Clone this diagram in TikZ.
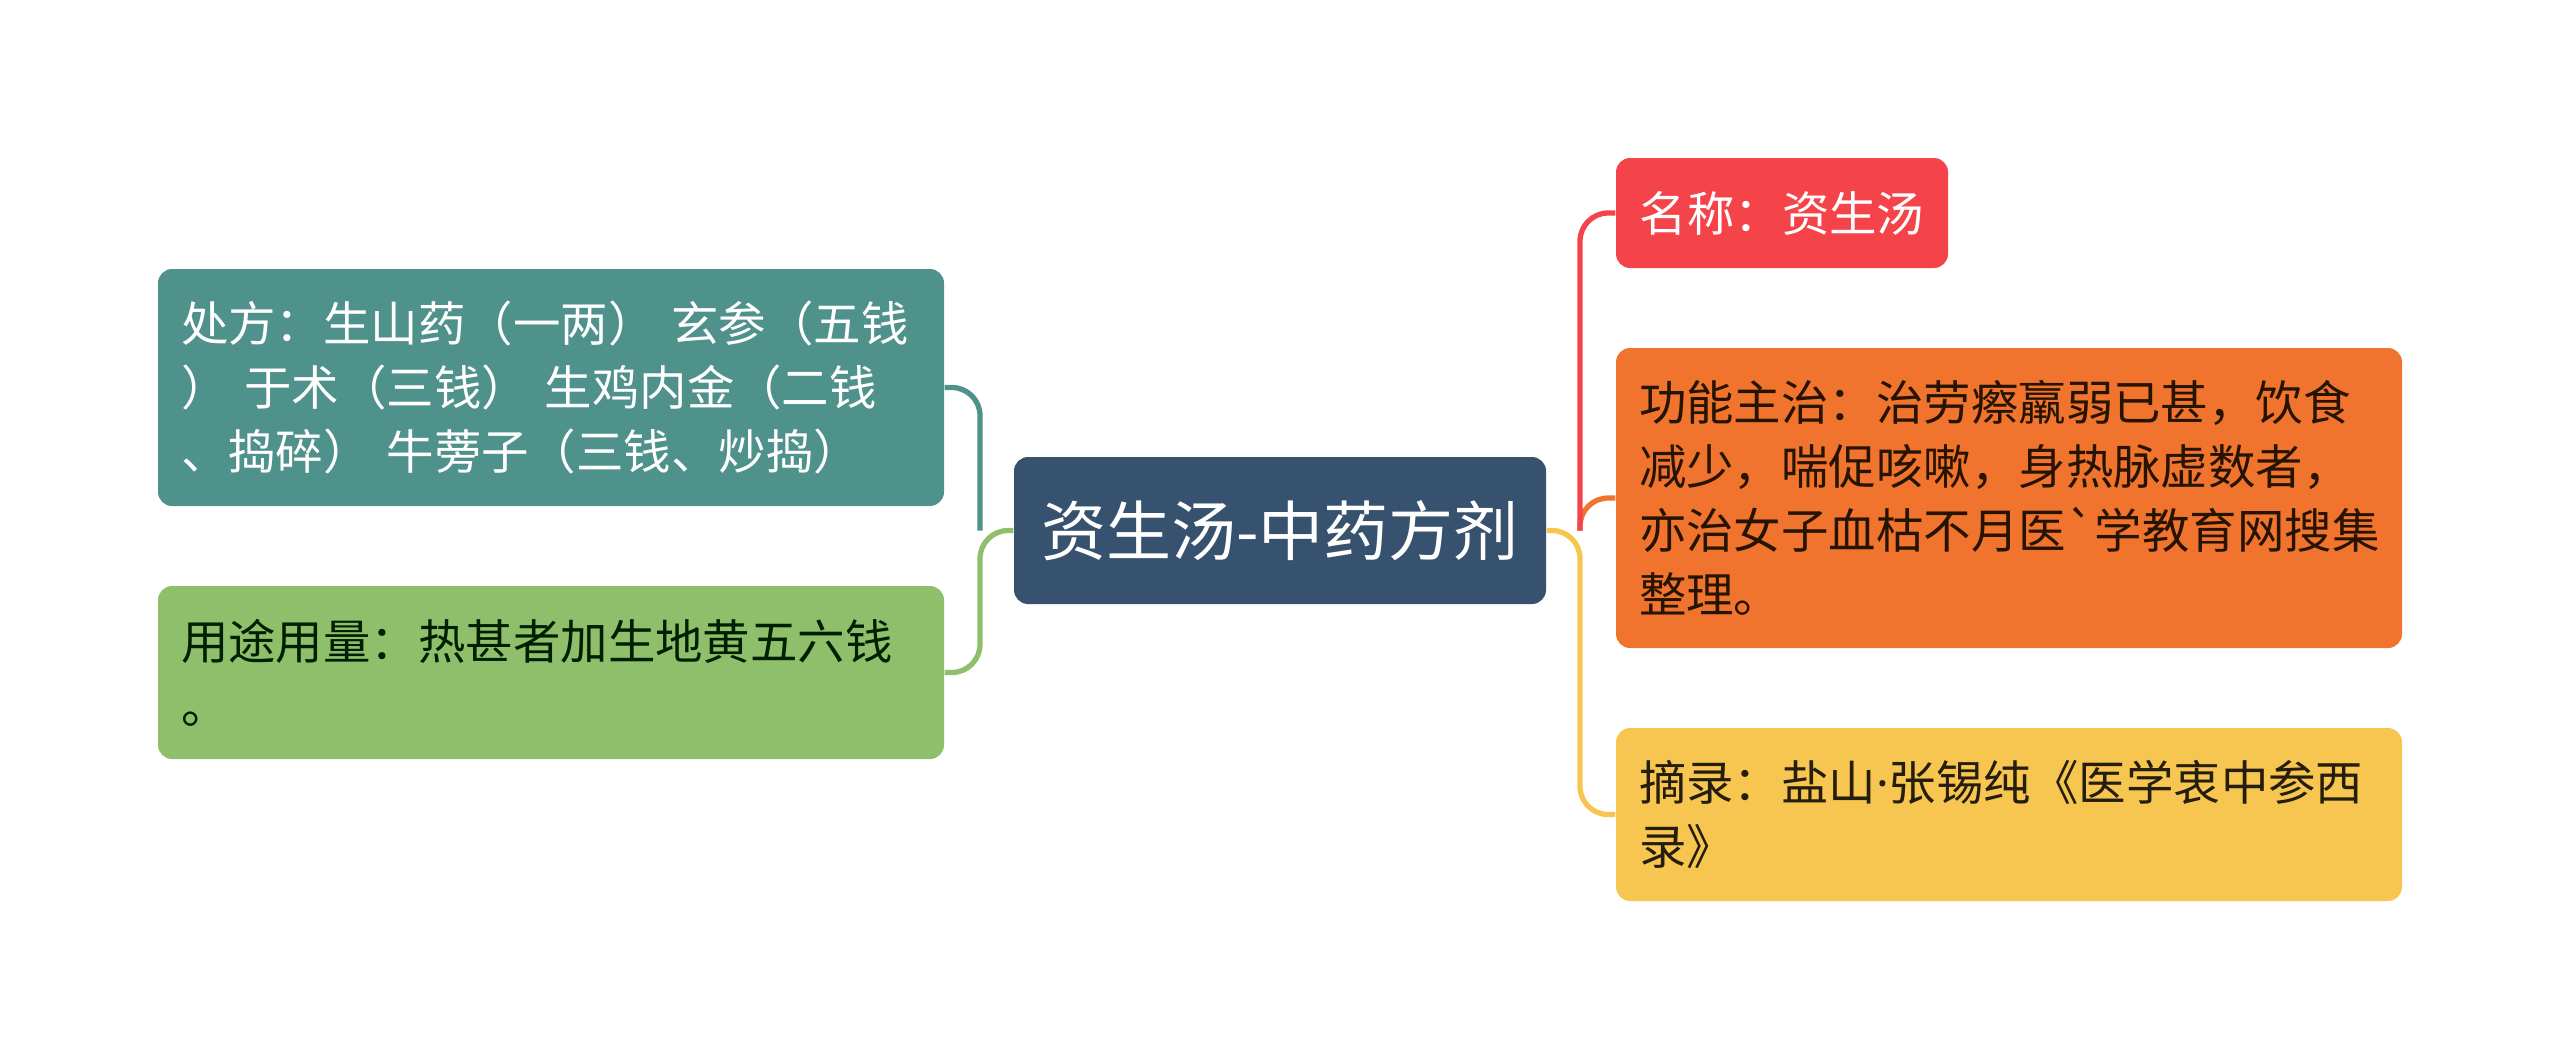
\documentclass[tikz,border=0pt]{standalone}
\usepackage{fontspec}
\setmainfont{Noto Sans CJK SC}[Ligatures=TeXOff]
\newfontfamily\latinfont{Noto Sans}
\usepackage{xcolor}
\usepackage{tikz}
\usetikzlibrary{positioning}
\definecolor{rootblue}{HTML}{36526E}
\definecolor{tealc}{HTML}{4F918B}
\definecolor{greenc}{HTML}{8FBF6A}
\definecolor{redc}{HTML}{F5434A}
\definecolor{orangec}{HTML}{F0742D}
\definecolor{yellowc}{HTML}{F7C651}
\tikzstyle{link}   = [line width=1.5pt, rounded corners=8pt]
\tikzstyle{topic}  = [rectangle, rounded corners=4pt, inner xsep=0.23cm, text width=7.4cm, align=left,
                      font=\fontsize{13.5}{18.2}\selectfont]
\tikzset{every node/.style={align=center}}

\begin{document}
\begin{tikzpicture}
    \useasboundingbox (0, 0) rectangle (25.6, 10.61);

    \node (root)  at (12.80, 5.305) [rectangle, rounded corners=4pt, fill=rootblue, text=white,
          minimum width=5.32cm, minimum height=1.47cm, font=\fontsize{18.5}{22}\selectfont]
          {资生汤-中药方剂};

    \node (chufang) at (5.51, 6.735) [topic, fill=tealc, text=white, minimum height=2.37cm]
          {处方：生山药（一两） 玄参（五钱\\） 于术（三钱） 生鸡内金（二钱\\、捣碎） 牛蒡子（三钱、炒捣）};
    \node (yongtu)  at (5.51, 3.885) [topic, fill=greenc, text=black!80!green!60!black, minimum height=1.73cm]
          {用途用量：热甚者加生地黄五六钱\\。};

    \node (mingcheng) at (17.82, 8.48) [rectangle, rounded corners=4pt, fill=redc, text=white,
          minimum width=3.32cm, minimum height=1.10cm, font=\fontsize{13.5}{18.2}\selectfont]
          {名称：资生汤};
    \node (gongneng)  at (20.09, 5.63) [topic, fill=orangec, text=black!85!orange, minimum height=3.00cm]
          {功能主治：治劳瘵羸弱已甚，饮食\\减少，喘促咳嗽，身热脉虚数者，\\亦治女子血枯不月医`学教育网搜集\\整理。};
    \node (zhailu)    at (20.09, 2.465) [topic, fill=yellowc, text=black!85!yellowc, minimum height=1.73cm]
          {摘录：盐山{\latinfont ·}张锡纯《医学衷中参西\\录》};

    \coordinate (jl) at (9.80, 5.305);
    \coordinate (jr) at (15.80, 5.305);

    \draw [link, greenc]  (root.west) -- (jl) |- (yongtu.east);
    \draw [link, tealc]   (jl) |- (chufang.east);
    \draw [link, yellowc] (root.east) -- (jr) |- (zhailu.west);
    \draw [link, orangec] (jr) |- (gongneng.west);
    \draw [link, redc]    (jr) |- (mingcheng.west);
\end{tikzpicture}
\end{document}
